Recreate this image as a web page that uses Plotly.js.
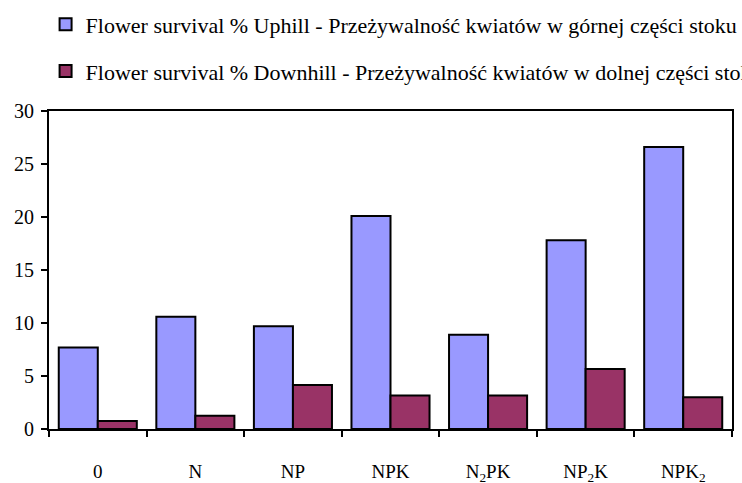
<!DOCTYPE html>
<html>
<head>
<meta charset="utf-8">
<script src="https://cdn.plot.ly/plotly-3.0.1.min.js"></script>
<style>html,body{margin:0;padding:0;background:#fff;}#chart{width:742px;height:483px;}</style>
</head>
<body>
<div id="chart"></div>
<script>
const categories = ["0", "N", "NP", "NPK", "N<sub>2</sub>PK", "NP<sub>2</sub>K", "NPK<sub>2</sub>"];
const uphill = [7.7, 10.6, 9.7, 20.1, 8.9, 17.8, 26.6];
const downhill = [0.75, 1.25, 4.15, 3.15, 3.15, 5.65, 3.0];
const seriesNames = [
  "Flower survival % Uphill - Przeżywalność kwiatów w górnej części stoku",
  "Flower survival % Downhill - Przeżywalność kwiatów w dolnej części stoku"
];

const fam = "Liberation Serif";
const font = {family: fam, size: 18, color: "#000"};

const traces = [
  {type: "bar", x: categories, y: uphill, name: seriesNames[0], legendgroup: "a",
   marker: {color: "#9999FF", line: {color: "#000", width: 2}}},
  {type: "bar", x: categories, y: downhill, name: seriesNames[1], legendgroup: "b",
   marker: {color: "#993366", line: {color: "#000", width: 2}}}
];

const layout = {
  width: 742, height: 483,
  margin: {l: 49, r: 10, t: 111, b: 54, autoexpand: false},
  paper_bgcolor: "#fff", plot_bgcolor: "#fff",
  font: font,
  barmode: "group", bargap: 0.2, bargroupgap: 0,
  showlegend: true,
  legend: {x: -0.005, xanchor: "left", y: 1.338, yanchor: "top", orientation: "v",
           tracegroupgap: 15, font: {family: fam, size: 22, color: "#000"},
           bgcolor: "rgba(0,0,0,0)", itemwidth: 30},
  xaxis: {type: "category", showline: true, linecolor: "#000", linewidth: 2, mirror: true,
          ticks: "outside", tickson: "boundaries", ticklen: 6, tickwidth: 2, tickcolor: "#000",
          showgrid: false, zeroline: false, ticklabelstandoff: 24, automargin: false,
          tickfont: {family: fam, size: 19, color: "#000"}},
  yaxis: {range: [0, 30], dtick: 5, showline: true, linecolor: "#000", linewidth: 2, mirror: true,
          ticks: "outside", ticklen: 6, tickwidth: 2, tickcolor: "#000", automargin: false,
          showgrid: false, zeroline: false, ticklabelstandoff: 3,
          tickfont: {family: fam, size: 20, color: "#000"}}
};

Plotly.newPlot("chart", traces, layout, {displayModeBar: false, staticPlot: true});
</script>
</body>
</html>
